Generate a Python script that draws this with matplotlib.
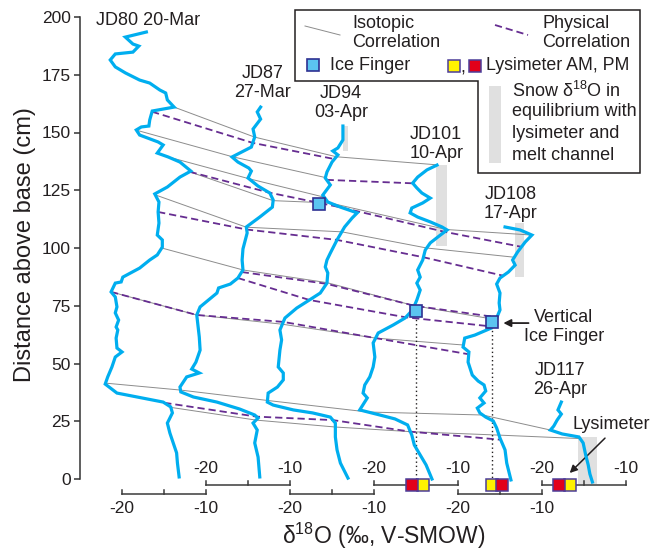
import numpy as np
import matplotlib.pyplot as plt
from matplotlib.patches import Polygon, Rectangle

plt.rcParams['font.family'] = ['Liberation Sans', 'DejaVu Sans']
plt.rcParams['mathtext.fontset'] = 'custom'
plt.rcParams['mathtext.rm'] = 'Liberation Sans'
plt.rcParams['mathtext.it'] = 'Liberation Sans:italic'

INK = '#231f20'
BLUE = '#00aeef'
PURPLE = '#662d91'
GREY = '#8c8c8c'
SNOW = '#e0e0e0'

SHIFT = 10  # each profile drawn 10 permil right of the previous one

NAMES = ["JD80 20-Mar", "JD87\n27-Mar", "JD94\n03-Apr", "JD101\n10-Apr", "JD108\n17-Apr", "JD117\n26-Apr"]

# depth above base (cm) and d18O (permil) for every profile
JD80_CM = [193.5, 191.3, 188.3, 187.4, 184.8, 184.0, 181.4, 178.4, 175.8, 172.7, 171.4, 168.4, 167.1, 164.1,
           161.0, 159.3, 155.4, 152.8, 152.4, 151.1, 148.9, 145.9, 144.6, 141.1, 139.4, 137.2, 133.3, 130.7,
           126.4, 123.4, 119.9, 115.6, 110.8, 105.6, 103.5, 100.4, 97.0, 94.8, 91.3, 87.4, 85.3, 84.8, 81.0,
           78.8, 74.5, 71.9, 68.8, 65.8, 64.5, 61.0, 56.7, 55.0, 52.8, 48.5, 44.2, 41.1, 37.2, 35.5, 33.3,
           31.2, 28.6, 24.2, 19.9, 15.6, 11.3, 6.9, 0.9]
JD80_D18O = [-17.1, -19.6, -18.7, -18.0, -18.7, -20.8, -21.4, -20.8, -19.6, -17.9, -16.7, -15.5, -14.8, -14.6,
             -13.8, -16.4, -16.7, -16.8, -17.7, -18.3, -17.9, -15.7, -15.1, -15.8, -14.5, -13.1, -11.8, -13.1,
             -14.6, -16.1, -15.6, -15.7, -15.6, -15.8, -15.2, -15.2, -15.8, -16.7, -17.9, -19.9, -20.1, -20.8,
             -21.3, -20.8, -20.6, -20.8, -20.4, -20.7, -20.5, -20.7, -20.6, -20.0, -20.8, -21.2, -21.7, -22.0,
             -20.6, -18.2, -15.1, -14.2, -14.0, -14.6, -14.3, -13.9, -13.5, -13.4, -13.2]

JD87_CM = [161.0, 158.9, 155.8, 151.5, 148.1, 143.7, 139.4, 137.2, 134.6, 133.3, 130.3, 126.8, 123.8, 120.8,
           117.7, 113.4, 109.1, 106.5, 99.6, 94.8, 90.5, 87.0, 84.4, 82.7, 80.5, 74.5, 71.0, 61.5, 55.8, 50.6,
           47.6, 45.9, 44.2, 39.8, 37.7, 35.5, 33.3, 30.3, 27.7, 26.4, 24.2, 21.2, 15.6, 9.5, 0.9]
JD87_D18O = [-13.5, -13.9, -13.5, -14.4, -14.2, -14.6, -16.9, -16.2, -14.9, -14.6, -15.0, -13.8, -12.4, -12.0,
             -12.1, -13.6, -15.2, -15.1, -15.6, -15.7, -15.6, -16.2, -17.1, -18.5, -18.7, -20.7, -21.1, -20.8,
             -20.7, -21.2, -21.7, -20.8, -22.3, -23.1, -23.0, -21.5, -18.7, -16.0, -14.2, -13.8, -14.4, -13.9,
             -14.2, -13.8, -13.6]

JD94_CM = [152.8, 146.8, 143.3, 142.0, 140.3, 137.2, 132.9, 130.3, 127.3, 122.9, 119.9, 117.7, 115.2, 113.0,
           109.1, 103.5, 97.8, 94.8, 91.8, 89.2, 84.8, 80.5, 78.4, 74.0, 69.7, 64.5, 60.2, 55.8, 48.5, 45.9,
           42.9, 39.8, 37.2, 33.3, 32.0, 29.9, 28.6, 26.8, 24.2, 18.2, 12.6, 6.9, 0.4]
JD94_D18O = [-13.7, -13.7, -14.3, -14.9, -14.3, -15.0, -15.6, -15.8, -15.2, -16.1, -15.5, -14.0, -12.0, -12.6,
             -13.5, -14.4, -15.2, -15.6, -15.8, -15.5, -15.6, -16.4, -17.3, -19.2, -20.6, -21.2, -21.0, -21.2,
             -21.4, -20.8, -20.8, -21.5, -22.6, -22.7, -22.0, -19.6, -17.3, -15.2, -14.6, -14.6, -14.4, -14.0,
             -13.1]

JD101_CM = [135.9, 133.8, 130.7, 128.1, 126.0, 123.8, 121.6, 119.5, 117.3, 115.2, 113.4, 111.3, 109.1, 107.8,
            105.6, 102.2, 99.1, 94.8, 90.5, 87.4, 84.8, 81.8, 77.5, 73.2, 69.7, 66.7, 63.2, 58.9, 52.8, 48.5,
            44.2, 40.7, 37.2, 35.1, 29.9, 27.7, 26.0, 23.4, 19.0, 14.7, 10.4, 6.1, 0.0]
JD101_D18O = [-12.5, -13.7, -14.8, -15.4, -14.9, -14.3, -13.3, -14.2, -15.5, -15.7, -14.8, -13.3, -11.9, -11.3,
              -12.1, -13.3, -13.9, -14.2, -14.8, -14.5, -14.9, -14.5, -14.9, -15.4, -16.3, -17.7, -19.5, -20.1,
              -19.9, -20.1, -20.5, -21.1, -21.3, -20.8, -21.7, -19.3, -17.5, -16.0, -15.5, -15.2, -14.5, -13.8,
              -13.1]

JD108_CM = [109.1, 107.8, 105.6, 102.6, 98.3, 94.8, 92.6, 89.6, 87.0, 84.4, 80.5, 76.2, 73.2, 69.7, 65.4, 62.3,
            61.0, 57.1, 55.0, 50.6, 45.0, 42.4, 40.7, 38.1, 35.1, 32.9, 30.7, 28.6, 26.8, 25.1, 22.1, 17.7, 12.6,
            6.9, -0.4]
JD108_D18O = [-14.4, -12.6, -11.2, -12.0, -12.9, -13.5, -13.2, -14.0, -15.0, -15.4, -15.0, -15.1, -15.0, -15.4,
              -16.0, -18.0, -19.2, -19.4, -18.7, -18.8, -18.3, -17.6, -16.9, -16.7, -17.4, -16.9, -17.7, -17.4,
              -16.7, -15.8, -15.4, -15.0, -14.4, -14.2, -13.7]

JD117_CM = [33.3, 29.9, 28.1, 25.5, 22.9, 21.2, 19.5, 18.2, 15.6, 10.4, 6.1, 2.2, -1.3]
JD117_D18O = [-17.7, -18.1, -17.7, -18.2, -18.6, -19.0, -17.6, -15.6, -15.1, -14.8, -14.5, -14.3, -14.0]

PROFILES = [(JD80_CM, JD80_D18O), (JD87_CM, JD87_D18O), (JD94_CM, JD94_D18O),
            (JD101_CM, JD101_D18O), (JD108_CM, JD108_D18O), (JD117_CM, JD117_D18O)]

# correlation lines: (profile index, depth cm) for each tie point
ISOTOPIC = [
    [(0, 161), (1, 148), (2, 139.5), (3, 136)],
    [(0, 151), (1, 139.5), (2, 130.5)],
    [(0, 139.5), (1, 130), (2, 122)],
    [(0, 133), (1, 120.5), (2, 119.5), (3, 108), (4, 105.6)],
    [(0, 123), (1, 109), (2, 107), (3, 100), (4, 96)],
    [(0, 100), (1, 90.5), (2, 85), (3, 75), (4, 69)],
    [(0, 81), (1, 71), (2, 67), (3, 61), (4, 58)],
    [(0, 41.5), (1, 38.5), (2, 34), (3, 29), (4, 27.7), (5, 21.2)],
    [(0, 31), (1, 25.5), (2, 22.5), (3, 20.5), (4, 19), (5, 17.5)],
]
PHYSICAL = [
    [(0, 159), (1, 145.5), (2, 138.5)],
    [(2, 129.5), (3, 128)],
    [(0, 133), (1, 124), (2, 117.5), (3, 107), (4, 100.5)],
    [(0, 115.6), (1, 108), (2, 103.5), (3, 96), (4, 88)],
    [(1, 89.6), (2, 84.5), (3, 75), (4, 70)],
    [(1, 87), (2, 77.5), (3, 70), (4, 66)],
    [(0, 81), (1, 71), (2, 68), (3, 61), (4, 54)],
    [(0, 33), (1, 27), (2, 25.5), (3, 20.5), (4, 17)],
]

# snow d18O in equilibrium with lysimeter / melt channel
SNOW_PROF = [2, 3, 4, 5]
SNOW_LO = [-13.7, -12.6, -13.2, -15.7]
SNOW_HI = [-13.1, -11.3, -12.1, -13.5]
SNOW_BOT = [141.8, 101.0, 87.5, -2.0]
SNOW_TOP = [152.8, 136.0, 111.0, 18.0]

# ice fingers
ICE_PROF = [2, 3, 4]
ICE_CM = [119.0, 72.7, 68.0]
ICE_D18O = [-16.5, -15.0, -15.95]

# lysimeter AM / PM
LYS_PROF = [3, 4, 5]
LYS_AM = [-14.2, -16.0, -16.7]
LYS_PM = [-15.5, -14.8, -18.0]
LYS_CM = -2.4

SCALE_TICKS = [-20, -15, -10]
SCALE_LABELS = [-20, -10]


def xpos(i, depth):
    cm, d18o = PROFILES[i]
    return np.interp(depth, cm[::-1], d18o[::-1]) + SHIFT * i


fig = plt.figure(figsize=(6.52, 5.54), dpi=100)
ax = fig.add_axes([80 / 652, 75 / 554, 572 / 652, 462 / 554])
ax.set_xlim(-25, -25 + 572 / 8.4)
ax.set_ylim(0, 200)

for i, lo, hi, b, t in zip(SNOW_PROF, SNOW_LO, SNOW_HI, SNOW_BOT, SNOW_TOP):
    ax.fill_betweenx([b, t], lo + SHIFT * i, hi + SHIFT * i, color=SNOW, lw=0, zorder=1, clip_on=False)

for chain in ISOTOPIC:
    xs = [xpos(i, d) for i, d in chain]
    ys = [d for i, d in chain]
    ax.plot(xs, ys, color=GREY, lw=0.7, zorder=2)
for chain in PHYSICAL:
    xs = [xpos(i, d) for i, d in chain]
    ys = [d for i, d in chain]
    ax.plot(xs, ys, color=PURPLE, lw=1.3, dashes=(4, 2.2), zorder=2)

for i, (cm, d18o) in enumerate(PROFILES):
    ax.plot(np.array(d18o) + SHIFT * i, cm, color=BLUE, lw=2.3, zorder=4, clip_on=False,
            solid_joinstyle='miter')

for i, cm, d in zip(ICE_PROF, ICE_CM, ICE_D18O):
    if i != 2:
        ax.plot([d + SHIFT * i] * 2, [cm, LYS_CM], color=INK, ls=(0, (1, 2)), lw=1.0, zorder=3, clip_on=False)
    ax.plot(d + SHIFT * i, cm, 's', ms=8.5, mfc='#5bc4f1', mec='#2e3192', mew=1.2, zorder=6)

for i, am, pm in zip(LYS_PROF, LYS_AM, LYS_PM):
    ax.plot(am + SHIFT * i, LYS_CM, 's', ms=8, mfc='#fff200', mec='#4c3d99', mew=1.1, zorder=7, clip_on=False)
    ax.plot(pm + SHIFT * i, LYS_CM, 's', ms=8, mfc='#e2001a', mec='#4c3d99', mew=1.1, zorder=7, clip_on=False)

# separate d18O scale under each profile
for i in range(len(PROFILES)):
    row = -2.6 if i % 2 else -6.5
    xs = [t + SHIFT * i for t in SCALE_TICKS]
    ax.plot([xs[0], xs[-1]], [row, row], color='#3a3a3a', lw=1.1, clip_on=False, zorder=3)
    for x in xs:
        ax.plot([x, x], [row, row + 1.8], color='#3a3a3a', lw=1.1, clip_on=False, zorder=3)
    for t in SCALE_LABELS:
        ax.text(t + SHIFT * i, row + 7.0 if i % 2 else row - 6.2, str(t), ha='center', va='center',
                fontsize=12.5, color=INK)

label_pos = [(-16.9, 198.3), (-3.3, 171.6), (6.1, 162.6), (17.4, 145.0), (26.3, 119.0), (32.1, 42.9)]
for name, (x, y) in zip(NAMES, label_pos):
    ax.text(x, y, name, ha='center', va='center', fontsize=13, color=INK, linespacing=1.15)

ax.annotate('', xy=(25.4, 67.5), xytext=(28.4, 67.5),
            arrowprops=dict(arrowstyle='-|>', color=INK, lw=1.3, mutation_scale=11, shrinkA=0, shrinkB=0))
ax.text(32.6, 65.6, "Vertical\nIce Finger", ha='center', va='center', fontsize=13, color=INK, linespacing=1.15)
ax.annotate('', xy=(33.3, 2.6), xytext=(37.5, 17.7),
            arrowprops=dict(arrowstyle='-|>', color=INK, lw=1.1, mutation_scale=11, shrinkA=0, shrinkB=0),
            annotation_clip=False)
ax.text(38.3, 23.4, "Lysimeter", ha='center', va='center', fontsize=13, color=INK)

ax.set_yticks(range(0, 201, 25))
ax.set_xticks([])
ax.tick_params(axis='y', direction='out', length=4.5, width=1.1, color='#333333', labelsize=12.5,
               labelcolor=INK, pad=2)
for s in ['top', 'right', 'bottom']:
    ax.spines[s].set_visible(False)
ax.spines['left'].set_linewidth(1.1)
ax.spines['left'].set_color('#333333')
ax.patch.set_alpha(0)

fig.text(25 / 652, 1 - 245 / 554, "Distance above base (cm)", rotation=90, ha='center', va='center',
         fontsize=17, color=INK)
fig.text(384 / 652, 1 - 536 / 554, r"δ$^{18}$O (‰, V-SMOW)", ha='center', va='center', fontsize=16.5, color=INK)

# legend drawn in pixel space
lg = fig.add_axes([0, 0, 1, 1], zorder=10)
lg.set_xlim(0, 652)
lg.set_ylim(554, 0)
lg.axis('off')
lg.add_patch(Polygon([(295, 10), (640, 10), (640, 173), (478, 173), (478, 81), (295, 81)], closed=True,
                     facecolor='white', edgecolor=INK, lw=1.1))
lg.plot([305, 340], [26, 35], color=GREY, lw=0.7)
lg.text(352, 33, "Isotopic\nCorrelation", ha='left', va='center', fontsize=13, color=INK, linespacing=1.1)
lg.plot([495, 528], [25, 35], color=PURPLE, lw=1.3, dashes=(4, 2.2))
lg.text(542, 33, "Physical\nCorrelation", ha='left', va='center', fontsize=13, color=INK, linespacing=1.1)
lg.plot(313, 65, 's', ms=8.5, mfc='#5bc4f1', mec='#2e3192', mew=1.2)
lg.text(330, 66, "Ice Finger", ha='left', va='center', fontsize=13, color=INK)
lg.plot(454, 66, 's', ms=8, mfc='#fff200', mec='#4c3d99', mew=1.1)
lg.text(463, 68, ",", ha='center', va='center', fontsize=13, color=INK)
lg.plot(475, 66, 's', ms=8, mfc='#e2001a', mec='#4c3d99', mew=1.1)
lg.text(486, 66, "Lysimeter AM, PM", ha='left', va='center', fontsize=12.8, color=INK)
lg.add_patch(Rectangle((489, 86), 12, 77, facecolor=SNOW, lw=0))
for y, line in zip([91, 112, 134, 155], [r"Snow δ$^{18}$O in", "equilibrium with", "lysimeter and", "melt channel"]):
    lg.text(512, y, line, ha='left', va='center', fontsize=13, color=INK)

fig.savefig('out.png', dpi=100)
